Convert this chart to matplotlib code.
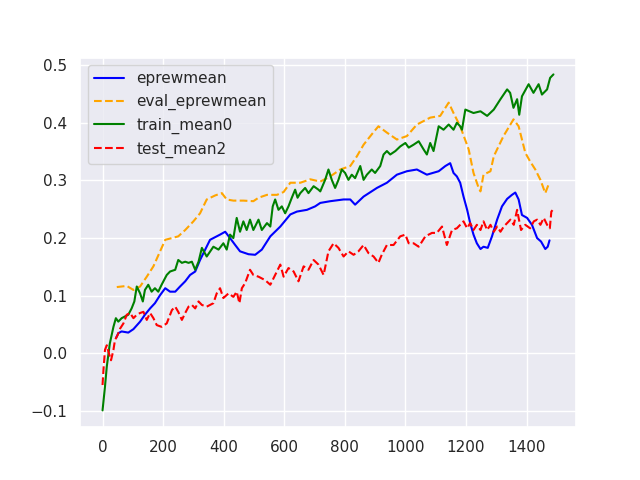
import numpy as np
import matplotlib
matplotlib.use("Agg")
import matplotlib.pyplot as plt
import seaborn as sns

# values
ep_x = [45, 52, 63, 85, 102, 124, 140, 157, 173, 190, 207, 223, 240, 256, 273, 289, 306, 322,
        339, 355, 388, 405, 421, 438, 454, 482, 504, 526, 554, 587, 620, 642, 675, 702, 719,
        752, 796, 818, 834, 862, 906, 939, 972, 1005, 1038, 1071, 1110, 1132, 1148, 1159,
        1170, 1181, 1192, 1204, 1214, 1225, 1236, 1248, 1258, 1272, 1286, 1303, 1319, 1336,
        1352, 1363, 1374, 1385, 1402, 1418, 1435, 1448, 1462, 1470, 1476]
ep_y = [0.027, 0.035, 0.038, 0.036, 0.042, 0.055, 0.067, 0.078, 0.087, 0.101, 0.113, 0.107,
        0.107, 0.116, 0.125, 0.136, 0.142, 0.162, 0.180, 0.197, 0.206, 0.211, 0.200, 0.188,
        0.177, 0.172, 0.171, 0.180, 0.203, 0.220, 0.241, 0.246, 0.249, 0.255, 0.261, 0.264,
        0.267, 0.267, 0.258, 0.272, 0.287, 0.296, 0.310, 0.316, 0.319, 0.310, 0.316, 0.325,
        0.330, 0.313, 0.307, 0.296, 0.272, 0.249, 0.226, 0.206, 0.191, 0.181, 0.185, 0.183,
        0.203, 0.232, 0.255, 0.268, 0.275, 0.279, 0.267, 0.240, 0.235, 0.223, 0.200, 0.194,
        0.181, 0.185, 0.196]

ev_x = [47, 80, 102, 124, 146, 168, 190, 207, 229, 250, 273, 300, 322, 344, 372, 394, 410,
        432, 465, 498, 515, 543, 576, 598, 620, 653, 686, 719, 752, 785, 818, 840, 862, 889,
        911, 939, 972, 1005, 1038, 1060, 1082, 1115, 1143, 1159, 1181, 1209, 1225, 1242,
        1248, 1258, 1281, 1292, 1324, 1357, 1374, 1396, 1412, 1429, 1446, 1462, 1473]
ev_y = [0.115, 0.117, 0.110, 0.116, 0.133, 0.151, 0.177, 0.197, 0.200, 0.203, 0.214, 0.229,
        0.243, 0.267, 0.274, 0.278, 0.267, 0.265, 0.265, 0.264, 0.270, 0.275, 0.275, 0.280,
        0.296, 0.296, 0.302, 0.298, 0.307, 0.319, 0.325, 0.342, 0.362, 0.380, 0.394, 0.383,
        0.371, 0.377, 0.397, 0.403, 0.409, 0.412, 0.435, 0.417, 0.394, 0.354, 0.313, 0.287,
        0.281, 0.310, 0.316, 0.342, 0.377, 0.406, 0.394, 0.348, 0.333, 0.319, 0.301, 0.278,
        0.293]

tr_x = [0, 8, 14, 24, 36, 44, 52, 63, 74, 85, 96, 105, 113, 124, 133, 140, 151, 162, 173,
        184, 195, 212, 223, 240, 250, 262, 273, 284, 295, 306, 317, 328, 344, 366, 383, 399,
        410, 421, 432, 443, 454, 465, 476, 487, 498, 515, 526, 543, 554, 562, 570, 581, 592,
        603, 614, 625, 636, 644, 653, 669, 680, 697, 713, 719, 735, 746, 757, 768, 779, 790,
        801, 812, 823, 834, 851, 862, 873, 889, 900, 917, 928, 939, 950, 967, 983, 1000,
        1011, 1027, 1044, 1060, 1071, 1082, 1093, 1110, 1126, 1143, 1159, 1170, 1181, 1187,
        1198, 1225, 1248, 1270, 1292, 1314, 1336, 1346, 1357, 1369, 1376, 1385, 1407, 1423,
        1440, 1451, 1468, 1478, 1489]
tr_y = [-0.099, -0.058, -0.023, 0.017, 0.046, 0.061, 0.055, 0.061, 0.064, 0.067, 0.078,
        0.090, 0.116, 0.104, 0.090, 0.110, 0.119, 0.107, 0.113, 0.107, 0.119, 0.136, 0.142,
        0.145, 0.162, 0.157, 0.159, 0.157, 0.159, 0.145, 0.159, 0.183, 0.168, 0.185, 0.180,
        0.191, 0.180, 0.206, 0.200, 0.235, 0.211, 0.229, 0.214, 0.232, 0.214, 0.232, 0.214,
        0.226, 0.220, 0.255, 0.267, 0.249, 0.255, 0.243, 0.255, 0.270, 0.284, 0.270, 0.278,
        0.287, 0.278, 0.290, 0.284, 0.281, 0.301, 0.319, 0.301, 0.287, 0.301, 0.319, 0.313,
        0.301, 0.310, 0.304, 0.325, 0.301, 0.310, 0.319, 0.313, 0.325, 0.345, 0.351, 0.345,
        0.351, 0.359, 0.365, 0.357, 0.362, 0.368, 0.354, 0.345, 0.365, 0.351, 0.394, 0.388,
        0.397, 0.388, 0.400, 0.394, 0.388, 0.423, 0.417, 0.420, 0.412, 0.423, 0.441, 0.458,
        0.452, 0.426, 0.441, 0.414, 0.446, 0.467, 0.452, 0.467, 0.449, 0.458, 0.478, 0.484]

te_x = [0, 3, 8, 14, 21, 28, 36, 41, 50, 58, 69, 80, 91, 102, 113, 124, 135, 146, 157, 168,
        179, 195, 212, 229, 240, 250, 262, 273, 284, 295, 306, 317, 328, 344, 366, 377, 388,
        399, 416, 432, 443, 452, 460, 471, 487, 498, 515, 537, 554, 570, 587, 598, 614, 631,
        647, 664, 680, 697, 713, 730, 746, 763, 779, 796, 812, 829, 845, 862, 878, 895, 911,
        922, 939, 961, 983, 1000, 1011, 1027, 1044, 1066, 1088, 1104, 1121, 1137, 1154, 1170,
        1181, 1192, 1204, 1214, 1225, 1236, 1248, 1258, 1270, 1281, 1292, 1303, 1314, 1325,
        1336, 1347, 1358, 1369, 1374, 1382, 1396, 1412, 1424, 1435, 1446, 1457, 1468, 1477,
        1482, 1487]
te_y = [-0.055, -0.029, 0.006, 0.014, 0.000, -0.012, 0.006, 0.023, 0.032, 0.043, 0.052,
        0.067, 0.070, 0.061, 0.067, 0.070, 0.072, 0.058, 0.070, 0.061, 0.049, 0.046, 0.052,
        0.075, 0.081, 0.072, 0.058, 0.070, 0.081, 0.084, 0.078, 0.090, 0.084, 0.081, 0.087,
        0.104, 0.113, 0.096, 0.104, 0.098, 0.107, 0.087, 0.113, 0.122, 0.145, 0.136, 0.133,
        0.127, 0.119, 0.136, 0.154, 0.133, 0.148, 0.142, 0.125, 0.151, 0.145, 0.162, 0.154,
        0.136, 0.177, 0.191, 0.183, 0.168, 0.177, 0.171, 0.177, 0.188, 0.174, 0.168, 0.157,
        0.171, 0.188, 0.188, 0.203, 0.206, 0.191, 0.191, 0.185, 0.203, 0.209, 0.209, 0.220,
        0.188, 0.214, 0.217, 0.223, 0.229, 0.217, 0.226, 0.214, 0.223, 0.214, 0.229, 0.214,
        0.223, 0.211, 0.220, 0.211, 0.220, 0.226, 0.232, 0.223, 0.249, 0.235, 0.214, 0.223,
        0.217, 0.229, 0.232, 0.223, 0.235, 0.223, 0.217, 0.246, 0.249]

sns.set_theme()
plt.figure(figsize=(6.4, 4.8), dpi=100)
plt.plot(ep_x, ep_y, color='blue', label='eprewmean')
plt.plot(ev_x, ev_y, color='orange', ls='--', label='eval_eprewmean')
plt.plot(tr_x, tr_y, color='green', label='train_mean0')
plt.plot(te_x, te_y, color='red', ls='--', label='test_mean2')
plt.legend()
plt.savefig("out.png")
